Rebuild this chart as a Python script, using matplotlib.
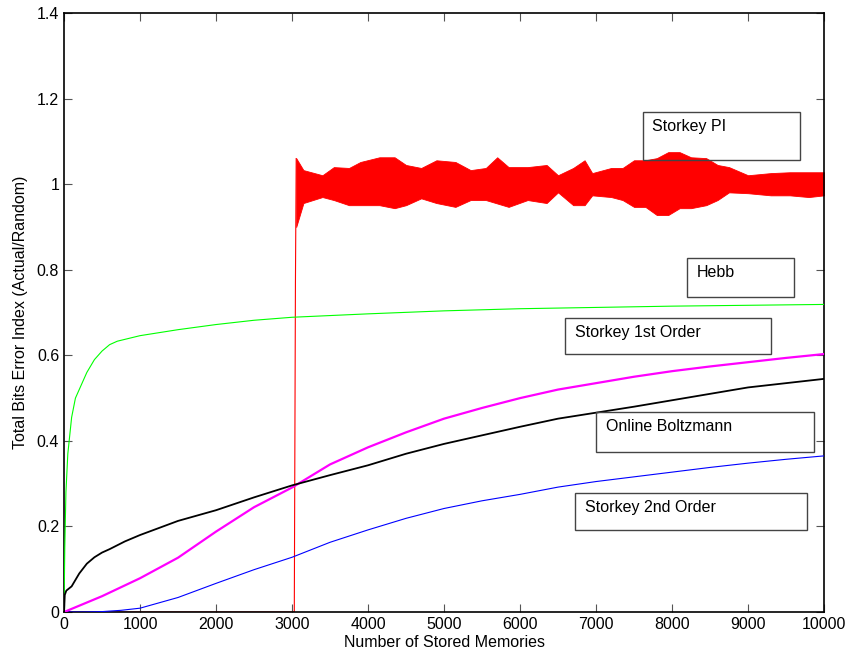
import numpy as np
import matplotlib
matplotlib.use("Agg")
import matplotlib.pyplot as plt
from matplotlib.patches import Rectangle
from matplotlib.ticker import FormatStrFormatter

plt.rcParams['font.family'] = ['Liberation Sans', 'DejaVu Sans']

# Hebb (green)
hebb_x = [0, 10, 25, 50, 100, 150, 200, 300, 400, 500, 600, 700, 1000, 1500,
          2000, 2500, 3000, 4000, 5000, 6000, 7000, 8000, 9000, 10000]
hebb_y = [0, 0.15, 0.28, 0.37, 0.455, 0.50, 0.52, 0.56, 0.59, 0.61, 0.625, 0.633,
          0.646, 0.66, 0.672, 0.682, 0.689, 0.697, 0.704, 0.709, 0.712, 0.715,
          0.717, 0.719]

# Online Boltzmann (black)
boltz_x = [0, 10, 30, 100, 200, 300, 400, 500, 600, 800, 1000, 1500, 2000,
           2500, 3000, 3500, 4000, 4500, 5000, 5500, 6000, 6500, 7000, 7500,
           8000, 8500, 9000, 9500, 10000]
boltz_y = [0, 0.04, 0.05, 0.06, 0.09, 0.113, 0.128, 0.139, 0.147, 0.165, 0.18,
           0.213, 0.238, 0.268, 0.296, 0.32, 0.343, 0.37, 0.393, 0.413, 0.433,
           0.452, 0.466, 0.48, 0.495, 0.51, 0.525, 0.535, 0.545]

# Storkey 1st order (magenta)
sk1_x = [0, 500, 1000, 1500, 2000, 2500, 3000, 3500, 4000, 4500, 5000, 5500,
         6000, 6500, 7000, 7500, 8000, 8500, 9000, 9500, 10000]
sk1_y = [0, 0.037, 0.079, 0.127, 0.188, 0.245, 0.291, 0.345, 0.385, 0.42,
         0.452, 0.477, 0.5, 0.52, 0.535, 0.55, 0.563, 0.574, 0.584, 0.594, 0.603]

# Storkey 2nd order (blue)
sk2_x = [0, 250, 500, 750, 1000, 1500, 2000, 2500, 3000, 3500, 4000, 4500,
         5000, 5500, 6000, 6500, 7000, 7500, 8000, 8500, 9000, 9500, 10000]
sk2_y = [0, 0, 0.001, 0.004, 0.009, 0.034, 0.067, 0.099, 0.128, 0.163, 0.192,
         0.219, 0.242, 0.26, 0.275, 0.292, 0.305, 0.316, 0.327, 0.338, 0.348,
         0.357, 0.365]

# Storkey PI (red): flat at zero, jump, then a noisy band (upper/lower envelope)
pi_rise_x = [0, 3030, 3045, 3055]
pi_rise_y = [0, 0, 0.77, 1.06]
pi_band_x = [3055, 3150, 3400, 3550, 3750, 3900, 4150, 4350, 4500, 4700, 4900,
             5150, 5350, 5550, 5700, 5850, 6100, 6350, 6500, 6700, 6850, 6950,
             7200, 7350, 7500, 7650, 7800, 7950, 8100, 8250, 8450, 8600, 8750,
             9000, 9300, 9550, 9800, 10000]
pi_upper = [1.061, 1.033, 1.021, 1.040, 1.038, 1.052, 1.063, 1.063, 1.045,
            1.038, 1.056, 1.052, 1.033, 1.038, 1.063, 1.040, 1.040, 1.045,
            1.021, 1.038, 1.056, 1.026, 1.038, 1.038, 1.056, 1.056, 1.061,
            1.075, 1.075, 1.063, 1.061, 1.045, 1.040, 1.021, 1.026, 1.028,
            1.028, 1.028]
pi_lower = [0.90, 0.956, 0.970, 0.963, 0.951, 0.951, 0.951, 0.944, 0.951,
            0.967, 0.956, 0.947, 0.963, 0.963, 0.955, 0.947, 0.963, 0.956,
            0.981, 0.951, 0.951, 0.974, 0.970, 0.963, 0.947, 0.947, 0.928,
            0.928, 0.944, 0.944, 0.951, 0.963, 0.981, 0.979, 0.974, 0.974,
            0.970, 0.974]

labels = ['Storkey PI', 'Hebb', 'Storkey 1st Order', 'Online Boltzmann',
          'Storkey 2nd Order']
# label boxes: (left, bottom, width, height) in data units
boxes = [(7618, 1.056, 2066, 0.112), (8197, 0.736, 1408, 0.091),
         (6592, 0.603, 2711, 0.084), (7000, 0.374, 2868, 0.093),
         (6724, 0.192, 3052, 0.086)]

fig = plt.figure(figsize=(8.48, 6.55), dpi=100)
ax = fig.add_axes([0.0755, 0.0656, 0.8962, 0.9144])

ax.plot(pi_rise_x, pi_rise_y, color='#ff0000', lw=0.8, zorder=2)
ax.fill_between(pi_band_x, pi_lower, pi_upper, color='#ff0000', lw=0.6,
                edgecolor='#ff0000', zorder=2)
ax.plot(hebb_x, hebb_y, color='#00ff00', lw=0.8, zorder=3)
ax.plot(sk2_x, sk2_y, color='#0000ff', lw=0.8, zorder=3)
ax.plot(sk1_x, sk1_y, color='#ff00ff', lw=1.6, zorder=3)
ax.plot(boltz_x, boltz_y, color='black', lw=1.3, zorder=4)

for lab, (x0, y0, w, h) in zip(labels, boxes):
    ax.add_patch(Rectangle((x0, y0), w, h, fill=False, edgecolor='#444444',
                           lw=1.0, zorder=5))
    ax.text(x0 + 125, y0 + h - 0.034, lab, fontsize=11.5, va='center',
            ha='left', zorder=6)

ax.set_xlim(0, 10000)
ax.set_ylim(0, 1.4)
ax.set_xticks(np.arange(0, 10001, 1000))
ax.set_yticks(np.arange(0, 1.41, 0.2))
ax.yaxis.set_major_formatter(FormatStrFormatter('%g'))
ax.tick_params(direction='in', top=True, right=True, length=6, labelsize=11.5,
               width=0.8, color='#555555')
for s in ax.spines.values():
    s.set_linewidth(1.2)
ax.set_xlabel('Number of Stored Memories', fontsize=11.5, labelpad=2)
ax.set_ylabel('Total Bits Error Index (Actual/Random)', fontsize=11.5, labelpad=6)

fig.savefig('out.png', dpi=100)
